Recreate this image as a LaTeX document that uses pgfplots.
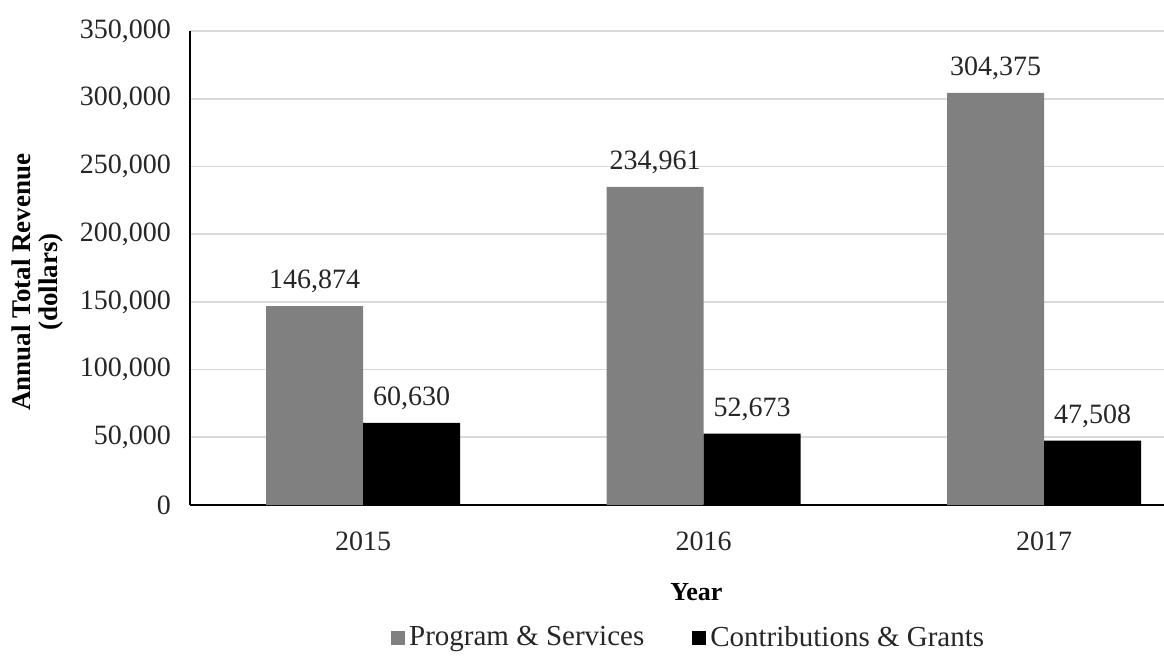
\documentclass[border=0pt]{standalone}
\usepackage{pgfplots}
\pgfplotsset{compat=1.18}
\usepackage{fontspec}
\setmainfont{Liberation Serif}
\definecolor{barGray}{HTML}{808080}
\definecolor{gridGray}{HTML}{D9D9D9}
\definecolor{txt}{HTML}{262626}
\begin{document}
\begin{tikzpicture}
\path[use as bounding box] (-95pt,-80pt) rectangle (487pt,252.5pt);
\begin{axis}[
  at={(0,0)}, anchor=south west,
  scale only axis, width=487pt, height=237pt,
  xmin=-0.508, xmax=2.352, ymin=0, ymax=350000,
  ybar=0pt, bar width=48.5pt,
  xtick={0,1,2}, xticklabels={2015,2016,2017},
  ytick={0,50000,...,350000},
  scaled y ticks=false,
  /pgf/number format/.cd, fixed, 1000 sep={,}, assume math mode=true,
  /pgfplots/.cd,
  major tick length=0pt,
  ymajorgrids, grid style={gridGray, line width=0.9pt},
  axis x line*=bottom, axis y line*=left,
  axis line style={-, black, line width=1.1pt},
  tick label style={font=\fontsize{14}{16}\selectfont, text=txt},
  yticklabel style={xshift=-6pt},
  xticklabel style={yshift=-10pt},
  nodes near coords,
  every node near coord/.append style={font=\fontsize{14}{16}\selectfont, text=txt, yshift=3pt},
  xlabel={Year},
  xlabel style={at={(axis description cs:0.52,-0.1835)}, anchor=center, font=\bfseries\fontsize{13}{15}\selectfont},
  ylabel={Annual Total Revenue\\(dollars)},
  ylabel style={at={(axis description cs:-0.157,0.47)}, anchor=center, align=center, font=\bfseries\fontsize{13.5}{13.5}\selectfont},
  legend columns=2,
  legend style={at={(axis description cs:0.513,-0.28)}, anchor=center, draw=none, fill=none,
    font=\fontsize{14.5}{16}\selectfont, text=txt,
    /tikz/every even column/.append style={column sep=22pt}},
  legend image code/.code={\fill[#1] (0pt,-3.5pt) rectangle (7pt,3.5pt);},
]
\addplot[fill=barGray, draw=none] coordinates {(0,146874) (1,234961) (2,304375)};
\addplot[fill=black, draw=none] coordinates {(0,60630) (1,52673) (2,47508)};
\legend{Program \& Services, Contributions \& Grants}
\end{axis}
\end{tikzpicture}
\end{document}
